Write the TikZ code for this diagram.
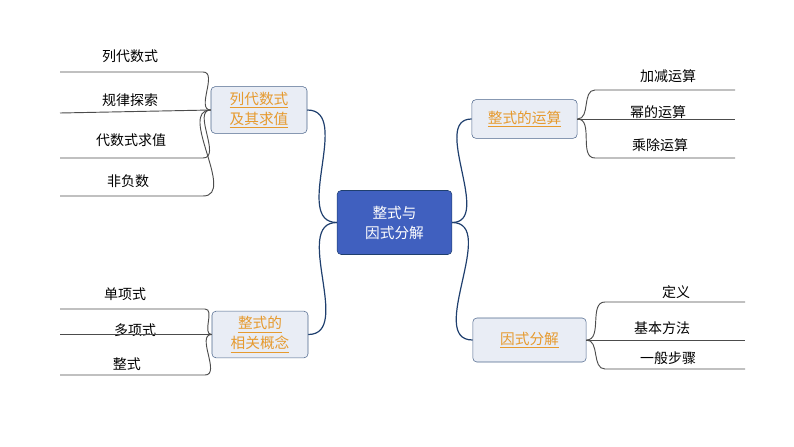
\documentclass[tikz,border=0pt]{standalone}
\usepackage{fontspec}
\setmainfont{Noto Sans CJK SC}
\definecolor{hubblue}{HTML}{4060BF}
\definecolor{boxfill}{HTML}{E9EDF5}
\definecolor{linkblue}{HTML}{1F3F6E}
\definecolor{topicorange}{HTML}{E69A2E}
\begin{document}
\begin{tikzpicture}[x=0.75pt,y=-0.75pt,
  hub/.style = {draw=linkblue,fill=hubblue,rounded corners=3pt,text=white,
    align=center,minimum width=86pt,minimum height=48pt,font=\fontsize{11}{15}\selectfont},
  topic/.style = {draw=linkblue!80,fill=boxfill,rounded corners=3pt,text=topicorange,
    align=center,font=\fontsize{11}{15}\selectfont},
  leaf/.style = {font=\fontsize{10.5}{13}\selectfont,inner sep=1pt},
  link/.style = {draw=linkblue,line width=0.9pt},
  twig/.style = {draw=black!70,line width=0.7pt}]
 \useasboundingbox (0,0) rectangle (794,447);

 \node[hub] (hub) at (394.5,222.5) {整式与\\因式分解};

 \node[topic,minimum width=72pt,minimum height=35pt] (lt) at (259,110)
   {\underline{列代数式}\\\underline{及其求值}};
 \node[topic,minimum width=72pt,minimum height=35pt] (lb) at (260,334.5)
   {\underline{整式的}\\\underline{相关概念}};
 \node[topic,minimum width=79pt,minimum height=29pt] (rt) at (524.5,119)
   {\underline{整式的运算}};
 \node[topic,minimum width=85pt,minimum height=33pt] (rb) at (529.5,340)
   {\underline{因式分解}};

 % hub links
 \path[link] (hub.west) to[out=180,in=0] (lt.east);
 \path[link] (hub.west) to[out=180,in=0] (lb.east);
 \path[link] (hub.east) to[out=0,in=180] (rt.west);
 \path[link] (hub.east) to[out=0,in=180] (rb.west);

 % left top leaves
 \coordinate (l1) at (203,72);  \coordinate (l2) at (211,113);
 \coordinate (l3) at (203,158); \coordinate (l4) at (203,196);
 \node[leaf] (t1) at (130,56) {列代数式};
 \node[leaf] (t2) at (130,100) {规律探索};
 \node[leaf] (t3) at (131,140) {代数式求值};
 \node[leaf] (t4) at (128,181) {非负数};
 \foreach \i in {1,3,4} \path[twig] (lt.west) to[out=180,in=0] (l\i) -- ++(-143,0);
 \path[twig] (lt.west) -- (60,113);

 % left bottom leaves
 \coordinate (m1) at (205,309); \coordinate (m3) at (205,375);
 \node[leaf] (u1) at (125,294) {单项式};
 \node[leaf] (u2) at (135,330) {多项式};
 \node[leaf] (u3) at (127,364) {整式};
 \foreach \i in {1,3} \path[twig] (lb.west) to[out=180,in=0] (m\i) -- ++(-145,0);
 \path[twig] (lb.west) -- (60,334.5);

 % right top leaves
 \coordinate (r1) at (595,90); \coordinate (r3) at (595,158);
 \node[leaf] (v1) at (668,76) {加减运算};
 \node[leaf] (v2) at (658,112) {幂的运算};
 \node[leaf] (v3) at (660,145) {乘除运算};
 \foreach \i in {1,3} \path[twig] (rt.east) to[out=0,in=180] (r\i) -- ++(140,0);
 \path[twig] (rt.east) -- (735,119);

 % right bottom leaves
 \coordinate (s1) at (605,302); \coordinate (s3) at (605,369);
 \node[leaf] (w1) at (676,292) {定义};
 \node[leaf] (w2) at (662,328) {基本方法};
 \node[leaf] (w3) at (668,358) {一般步骤};
 \foreach \i in {1,3} \path[twig] (rb.east) to[out=0,in=180] (s\i) -- ++(140,0);
 \path[twig] (rb.east) -- (745,340);
\end{tikzpicture}
\end{document}
